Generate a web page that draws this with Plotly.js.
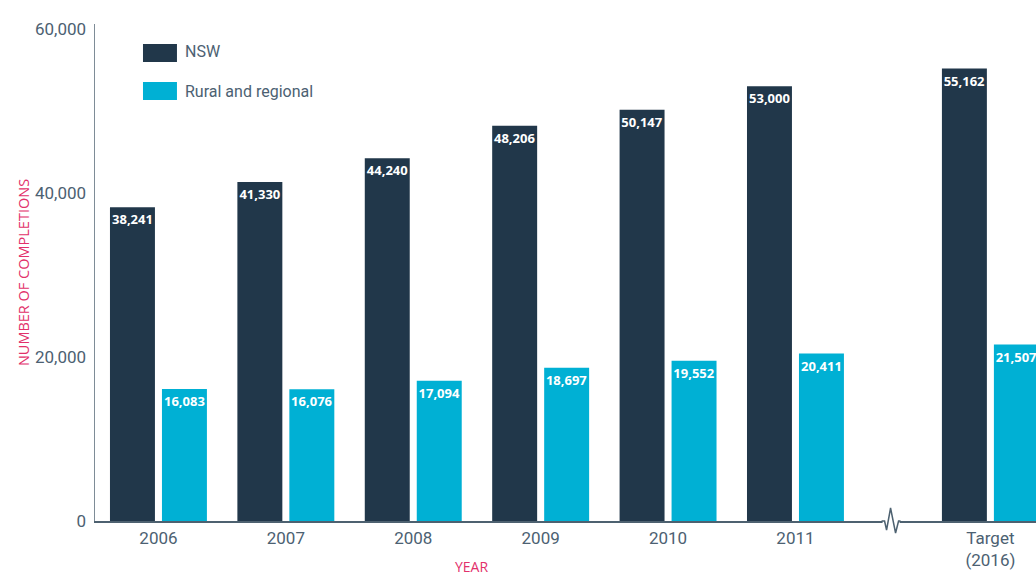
<!DOCTYPE html>
<html>
<head>
<meta charset="utf-8">
<script src="https://cdn.plot.ly/plotly-3.0.1.min.js"></script>
<style>html,body{margin:0;padding:0;background:#fff;}#chart{width:1036px;height:578px;}</style>
</head>
<body>
<div id="chart"></div>
<script>
// ---- data ----
const categories = ['2006', '2007', '2008', '2009', '2010', '2011', 'Target<br>(2016)'];
const nswValues = [38241, 41330, 44240, 48206, 50147, 53000, 55162];
const ruralValues = [16083, 16076, 17094, 18697, 19552, 20411, 21507];
const seriesNames = ['NSW', 'Rural and regional'];
const yTickVals = [0, 20000, 40000, 60000];

// ---- layout helpers (axis gap between 2011 and target) ----
const breakShift = 0.53;          // extra space before the target group
const breakPos = 5.77;            // where the axis break glyph sits
const xRange = [-0.498, 6.888];
const xPos = categories.map((c, i) => (i < 6 ? i : i + breakShift));
const breakPaper = (breakPos - xRange[0]) / (xRange[1] - xRange[0]);

const navy = '#21374a';
const cyan = '#00b0d4';
const tickGrey = '#4c6172';
const pink = '#e2316b';
const tickFamily = 'Roboto, "Open Sans", sans-serif';

const barText = {
  texttemplate: '%{y:,}',
  textposition: 'inside',
  insidetextanchor: 'end',
  textangle: 0,
  constraintext: 'none',
  cliponaxis: true,
  insidetextfont: {family: 'Open Sans', size: 13, color: '#ffffff', weight: 'bold'},
  hoverinfo: 'skip'
};

const traces = [
  Object.assign({type: 'bar', name: seriesNames[0], x: xPos, y: nswValues, marker: {color: navy}}, barText),
  Object.assign({type: 'bar', name: seriesNames[1], x: xPos, y: ruralValues, marker: {color: cyan}}, barText)
];

const layout = {
  width: 1036, height: 578,
  margin: {l: 95, r: 0, t: 24, b: 57},
  paper_bgcolor: '#ffffff', plot_bgcolor: '#ffffff',
  barmode: 'group', bargap: 0.184, bargroupgap: 0.135,
  showlegend: false,
  font: {family: tickFamily, color: tickGrey},
  xaxis: {
    type: 'linear',
    range: xRange,
    tickvals: xPos, ticktext: categories,
    showgrid: false, zeroline: false,
    showline: true, linecolor: '#4d6170', linewidth: 1.5,
    ticks: '', ticklabelstandoff: 1,
    tickfont: {family: tickFamily, size: 17, color: tickGrey}
  },
  yaxis: {
    range: [0, 60600],
    tickvals: yTickVals, tickformat: ',',
    showgrid: false, zeroline: false,
    showline: true, linecolor: '#7e8c97', linewidth: 1.5,
    ticks: '', ticklabelstandoff: 4,
    tickfont: {family: tickFamily, size: 17, color: tickGrey},
    title: {text: 'NUMBER OF COMPLETIONS', standoff: 2,
            font: {family: 'Open Sans', size: 14.5, color: pink}}
  },
  shapes: [
    // legend swatches
    {type: 'rect', xref: 'paper', yref: 'paper', x0: 0.051, x1: 0.0871, y0: 0.9235, y1: 0.9598,
     fillcolor: navy, line: {width: 0}},
    {type: 'rect', xref: 'paper', yref: 'paper', x0: 0.051, x1: 0.0871, y0: 0.8471, y1: 0.8833,
     fillcolor: cyan, line: {width: 0}},
    // axis break: white gap over the axis line, then zigzag
    {type: 'line', layer: 'above', xref: 'paper', yref: 'paper', xsizemode: 'pixel', ysizemode: 'pixel',
     xanchor: breakPaper, yanchor: 0, x0: -11, x1: 6, y0: 0, y1: 0,
     line: {color: '#ffffff', width: 4}},
    {type: 'path', layer: 'above', xref: 'paper', yref: 'paper', xsizemode: 'pixel', ysizemode: 'pixel',
     xanchor: breakPaper, yanchor: 0,
     path: 'M-12,0 L-9,0 L-7,-9 L-3,13 L2,-12 L5,0 L7,0',
     line: {color: '#4d6170', width: 1.5}}
  ],
  annotations: [
    {xref: 'paper', yref: 'paper', x: 0.0935, y: 0.944, xanchor: 'left', yanchor: 'middle',
     text: seriesNames[0], showarrow: false,
     font: {family: tickFamily, size: 16, color: tickGrey}},
    {xref: 'paper', yref: 'paper', x: 0.0935, y: 0.865, xanchor: 'left', yanchor: 'middle',
     text: seriesNames[1], showarrow: false,
     font: {family: tickFamily, size: 16, color: tickGrey}},
    {xref: 'paper', yref: 'paper', x: (471 - 95) / 941, y: -0.1147, xanchor: 'center', yanchor: 'bottom',
     text: 'YEAR', showarrow: false,
     font: {family: 'Open Sans', size: 14, color: pink}}
  ]
};

Plotly.newPlot('chart', traces, layout, {displayModeBar: false, staticPlot: true});
</script>
</body>
</html>
